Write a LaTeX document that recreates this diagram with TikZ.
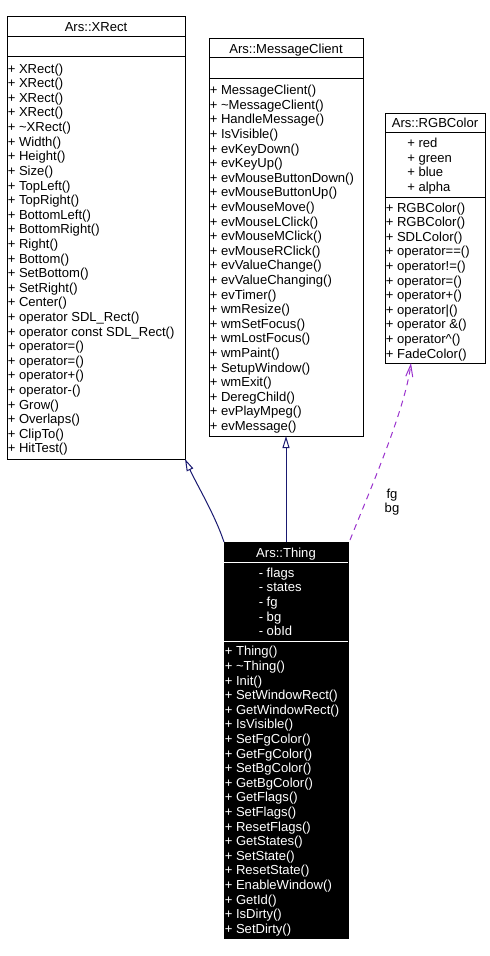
\documentclass[tikz,border=0pt]{standalone}
\usepackage{fontspec}
\setmainfont{Liberation Sans}
\usetikzlibrary{arrows.meta}
\definecolor{edgeblue}{HTML}{191970}
\definecolor{depcol}{HTML}{9A32CD}
\newcommand{\umlfont}{\fontsize{9.8}{10.95}\selectfont}
\begin{document}
\begin{tikzpicture}[x=0.75pt, y=-0.75pt,
  sect/.style n args={2}{draw=black, line width=0.75pt, anchor=north west,
    inner sep=0pt, outer sep=0pt, minimum width={#1*0.75pt}, minimum height={#2*0.75pt}},
  darksect/.style={fill=black},
  member/.style={anchor=base west, inner sep=0pt, font=\umlfont},
  classtitle/.style={anchor=base, inner sep=0pt, font=\umlfont},
  inherit/.style={draw=edgeblue, line width=0.75pt,
    -{Triangle[open, length=9pt, width=5.25pt]}},
  depend/.style={draw=depcol, line width=0.75pt, dash pattern=on 4.5pt off 3.75pt,
    -{Straight Barb[length=9pt, width=5.25pt]}},
  lbl/.style={inner sep=0pt, font=\umlfont, align=center}
]
\useasboundingbox (0,0) rectangle (489,956);

% ---------- Ars::XRect ----------
\node[sect={178}{20}] (xrT) at (7,17) {};
\node[sect={178}{20}] (xrA) at (7,37) {};
\node[sect={178}{402}] (xrO) at (7,57) {};
\node[classtitle] (xrName) at (96,32) {Ars::XRect};
\foreach \t [count=\i] in {+ XRect(), + XRect(), + XRect(), + XRect(),
  + \textasciitilde XRect(), + Width(), + Height(), + Size(), + TopLeft(),
  + TopRight(), + BottomLeft(), + BottomRight(), + Right(), + Bottom(),
  + SetBottom(), + SetRight(), + Center(), + operator SDL\_Rect(),
  + operator const SDL\_Rect(), + operator=(), + operator=(), + operator+(),
  + operator-(), + Grow(), + Overlaps(), + ClipTo(), + HitTest()}
  \node[member] (xrm\i) at ({7.5}, {73.2+(\i-1)*14.6}) {\t};

% ---------- Ars::MessageClient ----------
\node[sect={154}{19}] (mcT) at (209,39) {};
\node[sect={154}{21}] (mcA) at (209,58) {};
\node[sect={154}{357}] (mcO) at (209,79) {};
\node[classtitle] (mcName) at (286,53.5) {Ars::MessageClient};
\foreach \t [count=\i] in {+ MessageClient(), + \textasciitilde MessageClient(),
  + HandleMessage(), + IsVisible(), + evKeyDown(), + evKeyUp(),
  + evMouseButtonDown(), + evMouseButtonUp(), + evMouseMove(),
  + evMouseLClick(), + evMouseMClick(), + evMouseRClick(), + evValueChange(),
  + evValueChanging(), + evTimer(), + wmResize(), + wmSetFocus(),
  + wmLostFocus(), + wmPaint(), + SetupWindow(), + wmExit(), + DeregChild(),
  + evPlayMpeg(), + evMessage()}
  \node[member] (mcm\i) at ({209.5}, {94.6+(\i-1)*14.6}) {\t};

% ---------- Ars::RGBColor ----------
\node[sect={100}{19}] (rgbT) at (385,113) {};
\node[sect={100}{65}] (rgbA) at (385,132) {};
\node[sect={100}{166}] (rgbO) at (385,197) {};
\node[classtitle] (rgbName) at (435,127.5) {Ars::RGBColor};
\foreach \t [count=\i] in {+ red, + green, + blue, + alpha}
  \node[member] (rgba\i) at ({407}, {147.6+(\i-1)*14.6}) {\t};
\foreach \t [count=\i] in {+ RGBColor(), + RGBColor(), + SDLColor(),
  + operator==(), + operator!=(), + operator=(), + operator+(), + operator|(),
  + operator \&(), + operator\textasciicircum(), + FadeColor()}
  \node[member] (rgbm\i) at ({385.5}, {212+(\i-1)*14.6}) {\t};

% ---------- Ars::Thing ----------
\node[sect={124}{20}, darksect] (thT) at (224,542) {};
\node[sect={124}{79}, darksect] (thA) at (224,562) {};
\node[sect={124}{297}, darksect] (thO) at (224,641) {};
\draw[white, line width=0.75pt] (thA.north west) -- (thA.north east);
\draw[white, line width=0.75pt] (thO.north west) -- (thO.north east);
\node[classtitle, text=white] (thName) at (286,557) {Ars::Thing};
\foreach \t [count=\i] in {- flags, - states, - fg, - bg, - obId}
  \node[member, text=white] (tha\i) at ({258.5}, {577.3+(\i-1)*14.6}) {\t};
\foreach \t [count=\i] in {+ Thing(), + \textasciitilde Thing(), + Init(),
  + SetWindowRect(), + GetWindowRect(), + IsVisible(), + SetFgColor(),
  + GetFgColor(), + SetBgColor(), + GetBgColor(), + GetFlags(), + SetFlags(),
  + ResetFlags(), + GetStates(), + SetState(), + ResetState(),
  + EnableWindow(), + GetId(), + IsDirty(), + SetDirty()}
  \node[member, text=white] (thm\i) at ({224.5}, {655.8+(\i-1)*14.6}) {\t};

% ---------- connectors ----------
\draw[inherit] (thT.north) -- (mcO.south);
\draw[inherit] (thT.north west) .. controls (215,515) and (197,485) .. (xrO.south east);
\coordinate (deptip) at ([xshift=19.5pt]rgbO.south west);
\coordinate (depstart) at ([xshift=1.5pt, yshift=1.5pt]thT.north east);
\draw[depend] (depstart) .. controls (370,490) and (405,410) .. (deptip);
\node[lbl] (fgbg) at (392,502) {fg\\bg};
\end{tikzpicture}
\end{document}
